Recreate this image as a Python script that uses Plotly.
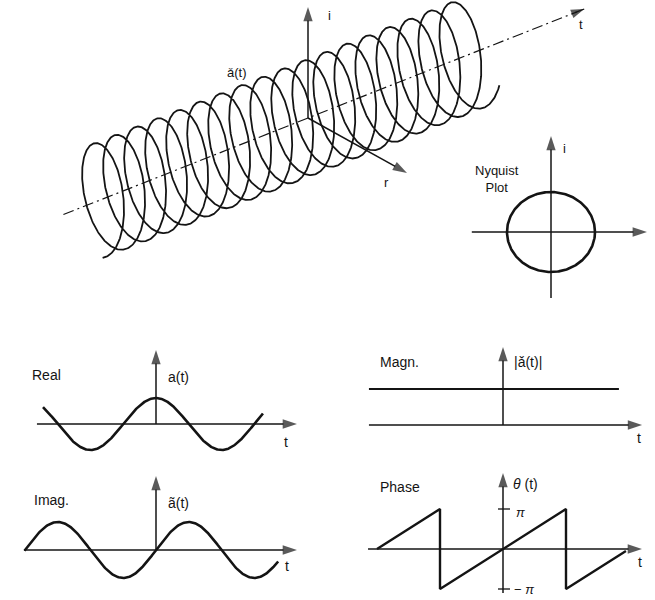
import numpy as np
import plotly.graph_objects as go

W, H = 655, 600
INK = "#141414"
FONT = "Liberation Sans, Arial, sans-serif"

# ---------------- values ----------------
# time spans of the drawn curves (radians of omega*t; one period = 2*pi)
real_t = (-5.42, 5.13)          # a(t) = cos(wt)
imag_t = (-6.31, 5.86)          # a~(t) = sin(wt)
magn_t = (-6.43, 5.56)          # |a(t)| = 1
phase_t = (-2 * np.pi, 6.13)    # theta(t) wrapped to (-pi, pi]
amplitude = 1.0
magnitude = 1.0
nyquist_radius = 1.0
helix_t_deg = (-3670, 2860)     # rotation angle covered by the helix
helix_pitch = 22.6              # axial advance per turn
helix_axis_span = (-263, 297)   # dash-dot time axis of the helix
i_axis_len = 111
r_axis_tip = (99, -55)

fig = go.Figure()
_n = [0]


def panel(box, origin, scale):
    """Create an invisible axis pair covering box (l, t, r, b) in page pixels."""
    _n[0] += 1
    n = _n[0]
    l, t, r, b = box
    ox, oy = origin
    sx, sy = scale
    sfx = "" if n == 1 else str(n)
    fig.update_layout({
        f"xaxis{sfx}": dict(domain=[l / W, r / W], range=[(l - ox) / sx, (r - ox) / sx],
                            visible=False, fixedrange=True, anchor=f"y{sfx}"),
        f"yaxis{sfx}": dict(domain=[1 - b / H, 1 - t / H], range=[(oy - b) / sy, (oy - t) / sy],
                            visible=False, fixedrange=True, anchor=f"x{sfx}"),
    })
    return f"x{sfx}", f"y{sfx}"


def line(ax, x, y, width=2.6, dash="solid"):
    fig.add_trace(go.Scatter(x=x, y=y, xaxis=ax[0], yaxis=ax[1], mode="lines",
                             line=dict(color=INK, width=width, dash=dash),
                             hoverinfo="skip", showlegend=False))


def arrow(ax, x0, y0, x1, y1, width=1.5, size=15):
    fig.add_trace(go.Scatter(x=[x0, x1], y=[y0, y1], xaxis=ax[0], yaxis=ax[1],
                             mode="lines+markers",
                             line=dict(color=INK, width=width),
                             marker=dict(symbol="arrow", size=[0, size], angleref="previous",
                                         color=INK, line=dict(width=0)),
                             hoverinfo="skip", showlegend=False))


def label(px, py, text, size=13, anchor="left"):
    fig.add_annotation(x=px / W, y=1 - py / H, xref="paper", yref="paper", text=text,
                       showarrow=False, xanchor=anchor, yanchor="middle", align="center",
                       font=dict(family=FONT, size=size, color=INK))


# ---------------- helix (oblique projection) ----------------
hx = panel((0, 0, 655, 300), (308, 118), (1, 1))
tdir = np.array([0.930, 0.367])     # time axis direction on the page
rvec = np.array([26.0, -16.0])      # real unit
ivec = np.array([0.0, 53.0])        # imaginary unit

th = np.radians(np.linspace(helix_t_deg[0], helix_t_deg[1], 4200))
s = helix_pitch * th / (2 * np.pi)
pts = (s[:, None] * tdir[None, :] + np.cos(th)[:, None] * rvec[None, :]
       + np.sin(th)[:, None] * ivec[None, :])
line(hx, pts[:, 0], pts[:, 1], width=1.8)

a0 = helix_axis_span[0] * tdir
a1 = helix_axis_span[1] * tdir
line(hx, [a0[0], a1[0] - 8 * tdir[0]], [a0[1], a1[1] - 8 * tdir[1]], width=1.2,
     dash="11px,4px,2px,4px")
arrow(hx, a1[0] - 10 * tdir[0], a1[1] - 10 * tdir[1], a1[0], a1[1], width=1.2, size=14)
arrow(hx, 0, 0, 0, i_axis_len)
arrow(hx, 0, 0, r_axis_tip[0], r_axis_tip[1])

label(237, 72, "ǎ(t)", anchor="center")
label(326, 15, "i")
label(577, 25, "t")
label(382, 183, "r")

# ---------------- Nyquist plot ----------------
nq = panel((455, 125, 655, 305), (551, 232), (44, 40))
ang = np.linspace(0, 2 * np.pi, 240)
line(nq, nyquist_radius * np.cos(ang), nyquist_radius * np.sin(ang), width=2.6)
arrow(nq, -1.80, 0, 2.18, 0)
arrow(nq, 0, -1.65, 0, 2.40)
label(497, 179, "Nyquist<br>Plot", size=13, anchor="center")
label(561, 149, "i")

# ---------------- Real part ----------------
sx = 131 / (2 * np.pi)
rp = panel((0, 330, 327, 462), (156, 424), (sx, 26))
t = np.linspace(real_t[0], real_t[1], 400)
line(rp, t, amplitude * np.cos(t))
arrow(rp, -5.71, 0, 6.76, 0)
arrow(rp, 0, 0, 0, 2.85)
label(30, 375, "Real", size=14)
label(166, 377, "a(t)", size=14)
label(282, 442, "t", size=14)

# ---------------- Magnitude ----------------
mg = panel((327, 330, 655, 462), (503, 425), (sx, 36))
line(mg, list(magn_t), [magnitude, magnitude], width=2.2)
arrow(mg, -6.43, 0, 6.67, 0)
arrow(mg, 0, 0, 0, 2.17)
label(378, 362, "Magn.", size=14)
label(512, 362, "|ǎ(t)|", size=14)
label(635, 438, "t", size=14)

# ---------------- Imaginary part ----------------
ip = panel((0, 462, 327, 600), (156, 550), (sx, 28))
t = np.linspace(imag_t[0], imag_t[1], 400)
line(ip, t, amplitude * np.sin(t))
arrow(ip, -6.33, 0, 6.76, 0)
arrow(ip, 0, 0, 0, 2.64)
label(32, 500, "Imag.", size=14)
label(166, 503, "ã(t)", size=14)
label(283, 566, "t", size=14)

# ---------------- Phase ----------------
ps = panel((327, 462, 655, 600), (503, 549), (126 / (2 * np.pi), 40 / np.pi))
jumps = [-np.pi, np.pi]
seg_t = [phase_t[0]]
for j in jumps:
    seg_t += [j, j]
seg_t.append(phase_t[1])
seg_t = np.array(seg_t)
seg_th = (seg_t + np.pi) % (2 * np.pi) - np.pi
# at each jump the left side reaches +pi before dropping to -pi
for k in (1, 3):
    seg_th[k] = np.pi
    seg_th[k + 1] = -np.pi
line(ps, seg_t, seg_th, width=2.4)
arrow(ps, -6.73, 0, 6.93, 0)
arrow(ps, 0, -3.46, 0, 5.97)
for lvl in (np.pi, -np.pi):
    line(ps, [-0.25, 0.35], [lvl, lvl], width=1.3)
label(378, 487, "Phase", size=14)
label(511, 484, "<i>θ</i> (t)", size=14)
label(514, 512, "<i>π</i>", size=13)
label(512, 589, "− <i>π</i>", size=13)
label(636, 562, "t", size=14)

fig.update_layout(width=W, height=H, margin=dict(l=0, r=0, t=0, b=0),
                  paper_bgcolor="white", plot_bgcolor="white", showlegend=False)
fig.write_html("out.html")
